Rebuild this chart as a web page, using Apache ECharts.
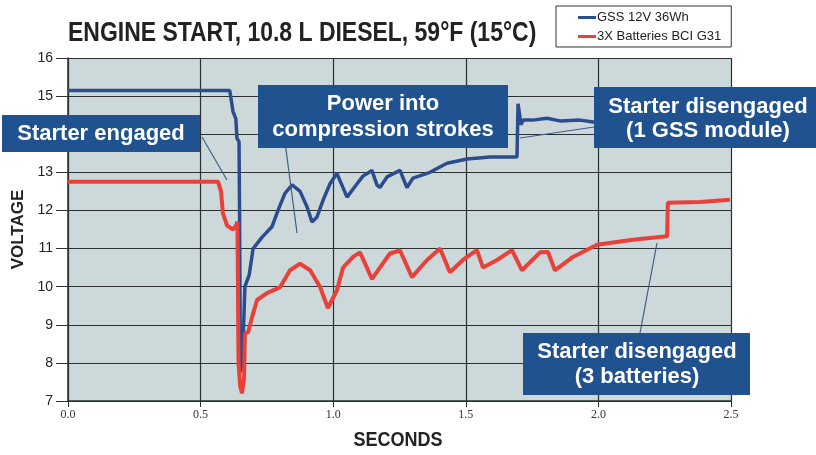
<!DOCTYPE html>
<html>
<head>
<meta charset="utf-8">
<script src="https://cdn.jsdelivr.net/npm/echarts@6/dist/echarts.min.js"></script>
<style>
  html, body { margin: 0; padding: 0; background: #fff; }
  #chart { width: 816px; height: 455px; }
</style>
</head>
<body>
<div id="chart"></div>
<script>
// values (seconds, volts)
const blueTime = [0.0, 0.61, 0.622, 0.633, 0.637, 0.645, 0.647, 0.649, 0.652, 0.66, 0.667, 0.683, 0.698,
  0.732, 0.769, 0.792, 0.818, 0.845, 0.875, 0.901, 0.92, 0.939, 0.962, 0.988, 1.014, 1.037, 1.052,
  1.09, 1.112, 1.146, 1.165, 1.176, 1.203, 1.252, 1.278, 1.301, 1.365, 1.429, 1.505, 1.591, 1.693,
  1.697, 1.708, 1.716, 1.753, 1.806, 1.855, 1.931, 1.98, 2.2, 2.5];
const blueVolt = [15.15, 15.15, 14.6, 14.4, 13.9, 13.8, 11.8, 9.0, 7.75, 8.5, 10.0, 10.3, 11.0,
  11.3, 11.57, 12.0, 12.45, 12.67, 12.5, 12.1, 11.7, 11.83, 12.27, 12.7, 12.97, 12.6, 12.35,
  12.7, 12.9, 13.05, 12.67, 12.6, 12.88, 13.05, 12.6, 12.85, 13.0, 13.24, 13.35, 13.4, 13.4,
  14.8, 14.25, 14.37, 14.37, 14.42, 14.35, 14.37, 14.32, 14.35, 14.35];

const redTime = [0.0, 0.566, 0.577, 0.584, 0.6, 0.622, 0.633, 0.639, 0.643, 0.649, 0.656, 0.664, 0.667,
  0.679, 0.694, 0.713, 0.75, 0.799, 0.837, 0.875, 0.913, 0.95, 0.98, 1.014, 1.037, 1.075, 1.101,
  1.127, 1.146, 1.176, 1.214, 1.252, 1.297, 1.354, 1.403, 1.44, 1.489, 1.542, 1.565, 1.618, 1.674,
  1.712, 1.78, 1.81, 1.836, 1.904, 1.995, 2.13, 2.259, 2.262, 2.383, 2.496];
const redVolt = [12.75, 12.75, 12.5, 11.93, 11.6, 11.5, 11.6, 11.7, 8.0, 7.4, 7.2, 7.6, 8.78,
  8.8, 9.2, 9.65, 9.83, 9.98, 10.43, 10.6, 10.43, 10.0, 9.44, 9.9, 10.5, 10.78, 10.9,
  10.5, 10.2, 10.5, 10.87, 10.95, 10.25, 10.7, 11.0, 10.38, 10.7, 10.96, 10.5, 10.7, 10.96,
  10.43, 10.9, 10.91, 10.43, 10.78, 11.1, 11.23, 11.32, 12.2, 12.22, 12.28];

const seriesNames = ["GSS 12V 36Wh", "3X Batteries BCI G31"];

const toPairs = (xs, ys) => xs.map((x, i) => [x, ys[i]]);

const boxColor = "#20528f";
const calloutColor = "#3d6088";
const boxFont = '"Liberation Sans", Arial, sans-serif';

function box(x, y, w, h, lines, cx, firstY, lineGap) {
  const items = [{
    type: "rect",
    shape: { x: x, y: y, width: w, height: h },
    style: { fill: boxColor },
  }];
  lines.forEach((t, i) => {
    items.push({
      type: "text",
      x: cx,
      y: firstY + i * lineGap,
      style: {
        text: t,
        fill: "#fff",
        font: "bold 22px " + boxFont,
        textAlign: "center",
        textVerticalAlign: "middle",
      },
    });
  });
  return items;
}

function callout(x1, y1, x2, y2) {
  return {
    type: "line",
    shape: { x1: x1, y1: y1, x2: x2, y2: y2 },
    style: { stroke: calloutColor, lineWidth: 1.2 },
  };
}

// condensed bold heading: no narrow font installed, so squeeze Liberation Sans
const heading = {
  type: "text",
  x: 68,
  y: 33,
  scaleX: 0.82,
  style: {
    text: "ENGINE START, 10.8 L DIESEL, 59\u00b0F (15\u00b0C)",
    fill: "#222",
    font: "bold 28px " + boxFont,
    textAlign: "left",
    textVerticalAlign: "middle",
  },
};

const seconds = {
  type: "text",
  x: 398,
  y: 440,
  scaleX: 0.9,
  style: {
    text: "SECONDS",
    fill: "#222",
    font: "bold 20px " + boxFont,
    textAlign: "center",
    textVerticalAlign: "middle",
  },
};

const chart = echarts.init(document.getElementById("chart"));

chart.setOption({
  animation: false,
  backgroundColor: "#fff",
  legend: {
    data: seriesNames,
    orient: "vertical",
    left: 556,
    top: 6,
    padding: [5, 10, 4, 22],
    itemGap: 6,
    itemWidth: 18,
    itemHeight: 3,
    icon: "rect",
    borderColor: "#333",
    borderWidth: 1,
    textStyle: {
      fontFamily: boxFont,
      fontSize: 13,
      color: "#222",
      padding: [0, 0, 0, -4],
    },
  },
  grid: {
    left: 68,
    right: 85,
    top: 58,
    bottom: 54,
    show: true,
    backgroundColor: "#cdd8db",
    borderWidth: 0,
  },
  xAxis: {
    type: "value",
    min: 0,
    max: 2.5,
    interval: 0.5,
    axisLine: { lineStyle: { color: "#2b3030", width: 1.5 } },
    axisTick: { length: 6, lineStyle: { color: "#2b3030" } },
    axisLabel: {
      formatter: (v) => v.toFixed(1),
      fontFamily: '"Liberation Serif", serif',
      fontSize: 12,
      color: "#333",
      margin: 8,
    },
    splitLine: { show: true, lineStyle: { color: "#2b3030", width: 1.2 } },
  },
  yAxis: {
    type: "value",
    min: 7,
    max: 16,
    interval: 1,
    name: "VOLTAGE",
    nameLocation: "middle",
    nameGap: 39,
    nameTextStyle: {
      fontFamily: boxFont,
      fontWeight: "bold",
      fontSize: 17,
      color: "#222",
    },
    axisLine: { show: true, lineStyle: { color: "#2b3030", width: 1.5 } },
    axisTick: { show: true, length: 12, lineStyle: { color: "#2b3030" } },
    axisLabel: {
      fontFamily: boxFont,
      fontSize: 14,
      color: "#222",
      margin: 15,
    },
    splitLine: { show: true, lineStyle: { color: "#2b3030", width: 1.2 } },
  },
  series: [
    {
      name: seriesNames[0],
      type: "line",
      showSymbol: false,
      color: "#2c4d8d",
      lineStyle: { width: 3.5, color: "#2c4d8d" },
      data: toPairs(blueTime, blueVolt),
    },
    {
      name: seriesNames[1],
      type: "line",
      showSymbol: false,
      color: "#e8413a",
      lineStyle: { width: 4, color: "#e8413a" },
      data: toPairs(redTime, redVolt),
    },
  ],
  graphic: {
    elements: [
      heading,
      seconds,
      callout(202, 137, 227, 180),
      callout(285, 142, 297, 233),
      callout(520, 138, 594, 127),
      callout(640, 333, 657, 243),
      ...box(2, 115, 198, 37, ["Starter engaged"], 101, 134, 0),
      ...box(258, 85, 250, 63, ["Power into", "compression strokes"], 383, 104, 26),
      ...box(594, 87, 222, 61, ["Starter disengaged", "(1 GSS module)"], 708, 107, 24),
      ...box(523, 333, 227, 62, ["Starter disengaged", "(3 batteries)"], 637, 352, 25),
    ].map((e) => Object.assign({ z: 100 }, e)),
  },
});
</script>
</body>
</html>
